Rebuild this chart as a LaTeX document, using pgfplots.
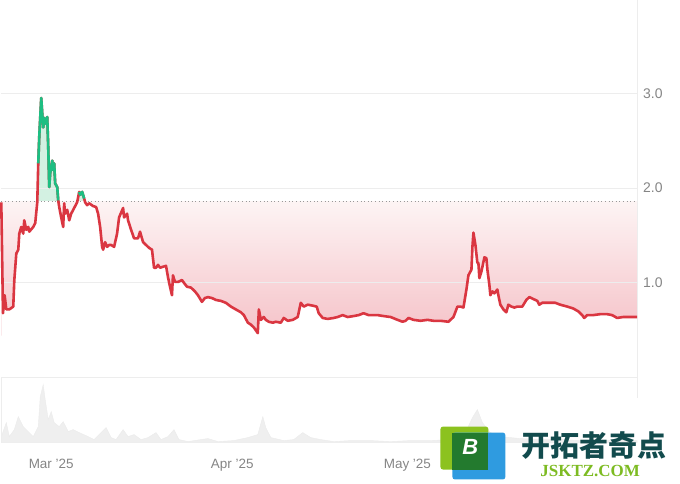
\documentclass[border=0pt]{standalone}
\usepackage{pgfplots}
\pgfplotsset{compat=1.18}
\usepackage{pgfplotstable}
\usepgfplotslibrary{fillbetween}
\usepackage{fontspec}
\setmainfont{Liberation Sans}
\newfontfamily\cjk{Noto Sans CJK SC}
\newfontfamily\serifb{Liberation Serif}

\definecolor{cred}{HTML}{DA3641}
\definecolor{cgreen}{HTML}{1DBE82}
\definecolor{fillTop}{HTML}{FDF4F4}
\definecolor{fillBot}{HTML}{F5C2C8}
\definecolor{gfill}{HTML}{D3F1E2}
\definecolor{gridc}{HTML}{EDEDED}
\definecolor{lbl}{HTML}{858585}
\definecolor{volc}{HTML}{EFEFEF}
\definecolor{logog}{HTML}{8CC21F}
\definecolor{logob}{HTML}{2F9BE0}
\definecolor{logod}{HTML}{237A2E}
\definecolor{logot}{HTML}{124B4D}
\definecolor{logos}{HTML}{7DBB22}

% price, days from 1 Mar 2025
\pgfplotstableread{
x y
-8.55 1.85
-8.26 0.68
-7.98 0.87
-7.69 0.72
-7.18 0.72
-6.50 0.75
-6.32 1.03
-5.98 1.31
-5.64 1.35
-5.47 1.52
-5.13 1.59
-4.79 1.52
-4.62 1.66
-4.27 1.56
-3.93 1.59
-3.76 1.54
-3.08 1.59
-2.74 1.63
-2.39 1.85
-2.22 2.26
-2.05 2.54
-1.71 2.95
-1.54 2.79
-1.37 2.64
-1.20 2.74
-1.03 2.68
-0.68 2.75
-0.51 2.43
-0.34 2.01
-0.17 2.16
0.17 2.29
0.34 2.19
0.51 2.26
0.68 2.05
1.03 2.01
1.20 1.87
1.37 1.80
1.71 1.69
2.05 1.59
2.22 1.84
2.39 1.73
2.74 1.77
3.08 1.66
3.42 1.73
3.93 1.79
4.44 1.85
4.79 1.96
4.96 1.93
5.30 1.96
5.64 1.89
5.81 1.85
6.15 1.82
6.50 1.84
7.18 1.81
7.69 1.80
8.03 1.73
8.38 1.59
8.72 1.38
8.89 1.35
9.23 1.43
9.57 1.38
9.91 1.40
10.26 1.40
10.77 1.38
11.28 1.52
11.62 1.69
12.31 1.79
12.48 1.69
12.99 1.73
13.16 1.66
13.68 1.56
14.19 1.47
14.87 1.47
15.21 1.54
15.73 1.43
16.24 1.40
16.75 1.37
17.26 1.35
17.61 1.16
17.95 1.16
18.29 1.19
18.63 1.16
19.15 1.17
19.66 1.18
20.00 1.06
20.34 0.96
20.68 0.87
20.85 1.08
21.20 1.01
21.71 1.01
22.39 1.03
22.74 1.00
23.25 0.96
23.93 0.95
24.62 0.91
25.13 0.87
25.81 0.80
26.32 0.84
26.84 0.85
27.52 0.84
28.21 0.82
29.06 0.81
29.91 0.79
30.77 0.75
31.62 0.72
32.48 0.69
32.99 0.66
33.68 0.58
34.19 0.56
34.70 0.53
35.38 0.47
35.56 0.72
35.90 0.61
36.41 0.64
36.75 0.61
37.26 0.59
37.95 0.58
38.46 0.59
39.32 0.58
39.83 0.63
40.51 0.60
41.37 0.61
42.22 0.64
42.74 0.79
43.25 0.75
43.93 0.77
44.79 0.76
45.47 0.75
45.81 0.68
46.50 0.63
47.35 0.62
48.38 0.63
49.06 0.64
49.91 0.66
50.77 0.64
51.79 0.65
52.65 0.66
53.50 0.68
54.36 0.66
55.90 0.66
56.92 0.65
58.12 0.64
59.32 0.61
60.17 0.59
60.68 0.60
61.20 0.63
62.05 0.61
63.25 0.60
64.44 0.61
65.47 0.60
66.67 0.60
68.03 0.59
68.89 0.64
69.57 0.75
70.09 0.75
70.60 0.74
71.11 0.93
71.45 1.08
71.97 1.14
72.14 1.38
72.31 1.53
72.65 1.40
72.99 1.21
73.16 1.21
73.33 1.05
73.68 1.12
73.85 1.17
74.19 1.27
74.53 1.26
74.70 1.14
75.04 0.98
75.21 0.87
75.56 0.91
75.90 0.89
76.41 0.93
76.58 0.87
76.92 0.77
77.44 0.72
77.95 0.69
78.29 0.77
78.80 0.75
79.32 0.74
79.83 0.75
80.68 0.75
81.37 0.82
81.88 0.85
82.56 0.83
83.25 0.81
83.59 0.77
84.10 0.79
84.96 0.79
85.81 0.79
86.32 0.79
87.18 0.77
88.38 0.75
89.40 0.73
90.26 0.70
90.94 0.66
91.28 0.63
91.79 0.66
92.82 0.66
94.02 0.67
95.21 0.67
96.07 0.66
96.92 0.63
97.95 0.64
99.15 0.64
100.34 0.64
}\price

% volume (relative units)
\pgfplotstableread{
x v
-8.55 6
-7.69 20
-7.18 6
-6.32 13
-5.64 26
-4.79 16
-3.93 11
-3.08 6
-2.22 16
-1.88 46
-1.37 58
-1.03 43
-0.51 23
0.00 31
0.51 20
1.37 16
2.05 21
2.91 11
3.76 13
4.79 10
6.32 6
7.35 3
8.55 10
9.40 15
10.26 5
11.11 3
12.31 13
13.16 6
14.19 8
15.38 3
16.58 5
17.95 10
18.80 3
20.00 6
21.03 13
21.88 3
23.42 1
25.64 3
26.84 4
28.55 1
31.28 2
33.68 5
35.38 8
36.24 26
36.75 15
37.61 5
39.83 2
41.54 3
43.08 10
44.44 5
46.15 3
48.38 1
51.28 2
54.70 2
58.12 1
61.54 2
64.96 2
68.38 3
70.94 10
72.14 25
72.99 33
73.85 20
75.21 10
76.92 6
80.34 4
83.76 3
87.18 3
90.60 2
94.02 2
96.92 2
100.34 2
}\vol

\begin{document}
\begin{tikzpicture}
\path (0,0) rectangle (680pt,484pt);

% price panel
\begin{axis}[
  at={(0pt,106pt)}, anchor=south west,
  scale only axis, width=637pt, height=378pt,
  xmin=-8.55, xmax=100.34, ymin=0, ymax=3.98,
  axis line style={draw=none},
  major tick length=0pt,
  xtick=\empty,
  ytick={1,2,3},
  yticklabel pos=right,
  yticklabel style={font=\fontsize{14}{14}\selectfont, text=lbl, xshift=2.5pt},
  /pgf/number format/.cd, fixed, fixed zerofill, precision=1, assume math mode=true,
  /pgfplots/.cd,
  clip=false,
]
% pink shading below the baseline, then white under the price line
\fill[top color=fillTop, bottom color=fillBot] (axis cs:-8.55,0.45) rectangle (axis cs:100.34,1.863);
\addplot[fill=white, draw=none] table[x=x, y expr={min(\thisrow{y},1.863)}] {\price} \closedcycle;
% green above the baseline
\addplot[name path=base, draw=none] coordinates {(-8.55,1.863) (100.34,1.863)};
\addplot[name path=hi, draw=none] table[x=x, y expr={max(\thisrow{y},1.863)}] {\price};
\addplot[fill=gfill, draw=none] fill between[of=hi and base];
% grid
\draw[gridc, line width=0.8pt] (axis cs:-8.55,0) -- (axis cs:100.34,0);
\draw[gridc, line width=0.8pt] (axis cs:-8.55,1) -- (axis cs:100.34,1);
\draw[gridc, line width=0.8pt] (axis cs:-8.55,2) -- (axis cs:100.34,2);
\draw[gridc, line width=0.8pt] (axis cs:-8.55,3) -- (axis cs:100.34,3);
\draw[gridc, line width=0.8pt] (axis cs:100.34,0) -- (axis cs:100.34,3.98);
\addplot[draw=black!40, line width=1pt, dash pattern=on 1pt off 2.6pt] coordinates {(-8.55,1.863) (100.34,1.863)};
\addplot[cred, line width=2.6pt, line join=round] table[x=x, y=y] {\price};
\addplot[cgreen, line width=2.6pt, line join=round, restrict y to domain=1.863:10, unbounded coords=jump] table[x=x, y=y] {\price};
\end{axis}

% volume panel
\begin{axis}[
  at={(0pt,41pt)}, anchor=south west,
  scale only axis, width=637pt, height=65pt,
  xmin=-8.55, xmax=100.34, ymin=0, ymax=65,
  axis line style={draw=none},
  major tick length=0pt,
  ytick=\empty,
  xtick={0,31,61},
  xticklabels={Mar '25, Apr '25, May '25},
  xticklabel style={font=\fontsize{13.5}{13.5}\selectfont, text=lbl, anchor=base, yshift=-26pt},
  clip=false,
]
\addplot[fill=volc, draw=black!8, line width=0.4pt] table[x=x, y=v] {\vol} \closedcycle;
\draw[gridc, line width=0.8pt] (axis cs:100.34,65) -- (axis cs:100.34,45);
\draw[gridc, line width=0.8pt] (axis cs:-8.45,65) -- (axis cs:-8.45,0);
\end{axis}

% watermark
\fill[logog, rounded corners=2.5pt] (440pt,14pt) rectangle (488pt,57pt);
\fill[logob, rounded corners=2.5pt] (452pt,4pt) rectangle (505pt,51pt);
\fill[logod] (452pt,14pt) rectangle (488pt,51pt);
\node[text=white, font=\fontsize{22}{22}\selectfont\bfseries\itshape] at (470pt,37pt) {B};
\node[text=logot, font=\fontsize{29}{29}\selectfont\cjk\bfseries] at (594pt,38pt) {开拓者奇点};
\node[text=logos, font=\fontsize{17}{17}\selectfont\serifb\bfseries] at (590pt,13pt) {JSKTZ.COM};
\end{tikzpicture}
\end{document}
